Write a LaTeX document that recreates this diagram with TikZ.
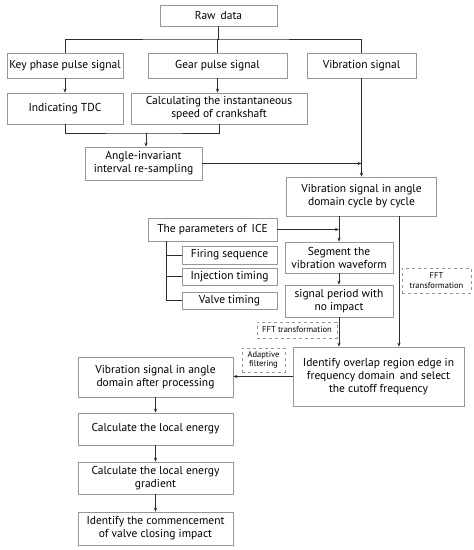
\documentclass[tikz,border=0pt]{standalone}
\usepackage{fontspec}
\setmainfont{PT Sans}
\usetikzlibrary{arrows.meta}
\definecolor{boxgray}{RGB}{150,150,150}
\definecolor{linegray}{RGB}{45,45,45}
\tikzset{
  box/.style={draw=boxgray,line width=0.7pt,align=center,inner sep=1pt,
    font=\fontsize{11.5}{13}\selectfont},
  dbox/.style={draw=boxgray,dashed,line width=0.7pt,align=center,inner sep=1pt,
    font=\fontsize{8.5}{9.5}\selectfont},
  link/.style={draw=linegray,line width=0.6pt},
  flow/.style={link,-{Stealth[length=4pt,width=3.2pt]}}
}
\begin{document}
\begin{tikzpicture}[x=1pt,y=-1pt]
    \useasboundingbox (0,0) rectangle (474,550);

    % 1) Raw data and the three signals
    \node[box,minimum width=117pt,minimum height=21pt] (raw) at (218.5,15.5) {Raw\, data};
    \node[box,minimum width=116pt,minimum height=25pt] (key) at (65,65.5) {Key phase pulse signal};
    \node[box,minimum width=139pt,minimum height=25pt] (gear) at (217.5,65.5) {Gear pulse signal};
    \node[box,minimum width=109pt,minimum height=25pt] (vib) at (361.5,65.5) {Vibration signal};
    \coordinate (bus) at (218.5,39);
    \draw[link] (raw) -- (bus);
    \draw[link] (key.north) |- (bus) -| (vib.north);
    \draw[link] (bus) -- (bus -| gear.north) -- (gear.north);

    % 2) TDC and speed
    \node[box,minimum width=116pt,minimum height=31pt] (tdc) at (65,108.5) {Indicating TDC};
    \node[box,minimum width=176pt,minimum height=31pt] (speed) at (219,108.5) {Calculating the instantaneous\\speed of crankshaft};
    \draw[flow] (key) -- (tdc);
    \draw[flow] (gear.south) -- (gear.south |- tdc.north);

    % 3) Re-sampling
    \node[box,minimum width=117pt,minimum height=33pt] (resamp) at (143.5,163.5) {Angle-invariant\\interval re-sampling};
    \coordinate (merge) at (146,133);
    \draw[link] (tdc.south) |- (merge) -| (speed.south);
    \draw[flow] (merge) -- (merge |- resamp.north);

    % 4) Angle domain
    \node[box,minimum width=150pt,minimum height=39pt] (angle) at (361.5,196.5) {Vibration signal in angle\\domain cycle by cycle};
    \draw[flow] (vib) -- (angle);
    \draw[flow] (resamp.east) -- (resamp.east -| vib.south);

    % 5) Parameters of ICE
    \node[box,minimum width=129pt,minimum height=23pt] (ice) at (212.5,229.5) {The parameters of\, ICE};
    \node[box,minimum width=95pt,minimum height=18pt] (fire) at (229.5,255) {Firing sequence};
    \node[box,minimum width=95pt,minimum height=17pt] (inj) at (229.5,276.5) {Injection timing};
    \node[box,minimum width=95pt,minimum height=17pt] (valve) at (229.5,300.5) {Valve timing};
    \coordinate (trunk) at (166,241);
    \draw[link] (trunk) |- (valve.west);
    \draw[link] (fire.west) -- (fire.west -| trunk);
    \draw[link] (inj.west) -- (inj.west -| trunk);

    % 6) Segmenting
    \node[box,minimum width=108pt,minimum height=31pt] (seg) at (339,257.5) {Segment the\\vibration waveform};
    \node[box,minimum width=108pt,minimum height=32pt] (period) at (339,301) {signal period with\\no impact};
    \draw[flow] (ice.east) -- (ice.east -| seg.north);
    \draw[flow] (angle.south -| seg.north) -- (seg.north);
    \draw[flow] (seg) -- (period);

    % 7) Frequency domain
    \node[box,minimum width=171pt,minimum height=59pt] (ident) at (378.5,376.5) {Identify overlap region edge in\\frequency domain\, and select\\the cutoff frequency};
    \node[dbox,minimum width=69pt,minimum height=25pt] (fftA) at (436.5,280.5) {FFT\\transformation};
    \node[dbox,minimum width=80pt,minimum height=16pt] (fftB) at (297,330) {FFT transformation};
    \node[dbox,minimum width=43pt,minimum height=24pt] (adapt) at (263.5,360) {Adaptive\\filtering};
    \coordinate (tap) at (399,216);
    \draw[flow] (tap) -- (tap |- ident.north);
    \draw[flow] (period.south) -- (period.south |- ident.north);

    % 8) Processing chain
    \node[box,minimum width=155pt,minimum height=40pt] (proc) at (155.5,377) {Vibration signal in angle\\domain after processing};
    \node[box,minimum width=155pt,minimum height=32pt] (energy) at (155.5,429) {Calculate the local energy};
    \node[box,minimum width=155pt,minimum height=32pt] (grad) at (155.5,478) {Calculate the local energy\\gradient};
    \node[box,minimum width=155pt,minimum height=33pt] (commence) at (155.5,528.5) {Identify the commencement\\of valve closing impact};
    \draw[flow] (ident.west) -- (ident.west -| proc.east);
    \draw[flow] (proc) -- (energy);
    \draw[flow] (energy) -- (grad);
    \draw[flow] (grad) -- (commence);
\end{tikzpicture}
\end{document}
